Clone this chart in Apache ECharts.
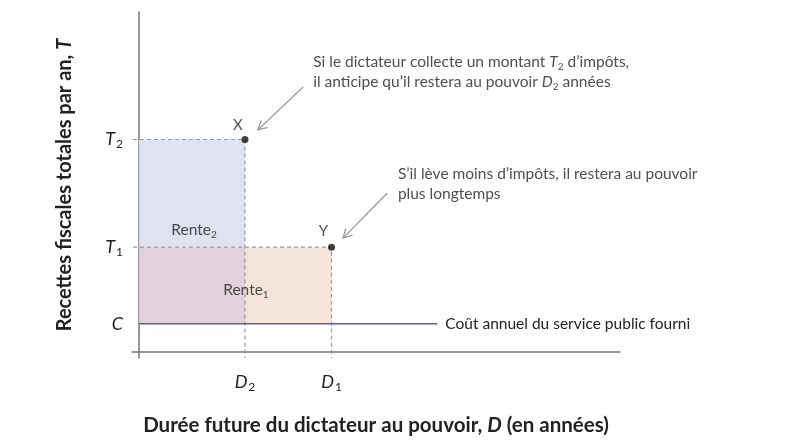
<!DOCTYPE html>
<html>
<head>
    <meta charset="utf-8">
    <title>Rente du dictateur</title>
    <script src="https://cdn.jsdelivr.net/npm/echarts@6.0.0/dist/echarts.min.js"></script>
    <style>
        html, body { margin: 0; padding: 0; background: #fff; }
    </style>
</head>
<body>
    <div id="main" style="width:810px;height:443px;"></div>
    <script type="text/javascript">
        // valeurs (unités arbitraires)
        var durations = [2.2, 4.0];          // D2, D1
        var durationNames = ['D2', 'D1'];
        var taxes = [7.5, 3.7, 1.0];         // T2, T1, C
        var taxNames = ['T2', 'T1', 'C'];
        var costLine = [[0, 1.0], [6.2, 1.0]];
        var pointX = [2.2, 7.5];
        var pointY = [4.0, 3.7];
        // flèches : [x départ, y départ, x arrivée, y arrivée]
        var arrows = [
            [3.41, 9.35, 2.47, 7.84],
            [5.16, 5.61, 4.24, 4.02]
        ];

        var FONT = 'Lato';
        var textColor = '#222';

        function subLabel(name) {
            if (name.length == 1) return '{i|' + name + '}';
            return '{i|' + name.charAt(0) + '}{s|' + name.substring(1) + '}';
        }

        var tickRich = {
            i: { fontFamily: FONT, fontSize: 18, fontStyle: 'italic', color: textColor, lineHeight: 22 },
            s: { fontFamily: FONT, fontSize: 12, color: textColor, lineHeight: 22, padding: [10, 0, 0, 1] }
        };
        var noteRich = {
            n: { fontFamily: FONT, fontSize: 15.5, color: textColor, lineHeight: 20 },
            i: { fontFamily: FONT, fontSize: 15.5, fontStyle: 'italic', color: textColor, lineHeight: 20 },
            s: { fontFamily: FONT, fontSize: 10, color: textColor, lineHeight: 20, padding: [9, 0, 0, 0] }
        };

        var myChart = echarts.init(document.getElementById('main'));

        var option = {
            animation: false,
            grid: { left: 132, right: 190, top: 12, bottom: 85 },
            xAxis: {
                type: 'value',
                min: -0.15,
                max: 10,
                splitLine: { show: false },
                axisTick: { show: false },
                axisLine: { onZero: true, lineStyle: { color: '#777', width: 1.5 } },
                axisLabel: {
                    customValues: durations,
                    margin: 13,
                    formatter: function (v) {
                        var k = durations.indexOf(v);
                        return k < 0 ? '' : subLabel(durationNames[k]);
                    },
                    rich: tickRich
                },
                name: 'Durée future du dictateur au pouvoir, {i|D} (en années)',
                nameLocation: 'middle',
                nameGap: 57,
                nameTextStyle: {
                    fontFamily: FONT, fontSize: 20.5, fontWeight: 'bold', color: textColor,
                    rich: {
                        i: { fontFamily: FONT, fontSize: 20.5, fontWeight: 'bold', fontStyle: 'italic', color: textColor }
                    }
                }
            },
            yAxis: {
                type: 'value',
                min: -0.21,
                max: 12,
                splitLine: { show: false },
                axisTick: { show: false },
                axisLine: { onZero: true, lineStyle: { color: '#777', width: 1.5 } },
                axisLabel: {
                    customValues: taxes,
                    margin: 9,
                    formatter: function (v) {
                        var k = taxes.indexOf(v);
                        return k < 0 ? '' : subLabel(taxNames[k]);
                    },
                    rich: tickRich
                },
                name: 'Recettes fiscales totales par an, {i|T}',
                nameLocation: 'middle',
                nameGap: 57,
                nameTextStyle: {
                    fontFamily: FONT, fontSize: 20, fontWeight: 'bold', color: textColor,
                    rich: {
                        i: { fontFamily: FONT, fontSize: 20, fontWeight: 'bold', fontStyle: 'italic', color: textColor }
                    }
                }
            },
            series: [
                {
                    // surfaces des rentes
                    type: 'line',
                    data: [],
                    silent: true,
                    z: 1,
                    markArea: {
                        silent: true,
                        data: [
                            [{ coord: [0, taxes[1]], itemStyle: { color: '#dee2f1' } }, { coord: [durations[0], taxes[0]] }],
                            [{ coord: [0, taxes[2]], itemStyle: { color: '#e1d1da' } }, { coord: [durations[0], taxes[1]] }],
                            [{ coord: [durations[0], taxes[2]], itemStyle: { color: '#f5e5d9' } }, { coord: [durations[1], taxes[1]] }]
                        ]
                    }
                },
                {
                    // pointillés T2 -> X -> D2
                    type: 'line',
                    silent: true,
                    symbol: 'none',
                    z: 2,
                    lineStyle: { color: '#999', width: 1.2, type: [4, 3] },
                    data: [[-0.13, pointX[1]], pointX, [pointX[0], -0.21]]
                },
                {
                    // pointillés T1 -> Y -> D1
                    type: 'line',
                    silent: true,
                    symbol: 'none',
                    z: 2,
                    lineStyle: { color: '#999', width: 1.2, type: [4, 3] },
                    data: [[-0.13, pointY[1]], pointY, [pointY[0], -0.21]]
                },
                {
                    // coût du service public
                    type: 'line',
                    silent: true,
                    symbol: 'none',
                    z: 3,
                    lineStyle: { color: '#5c5fa8', width: 1.5 },
                    endLabel: {
                        show: true, distance: 8,
                        formatter: 'Coût annuel du service public fourni',
                        fontFamily: FONT, fontSize: 15.5, color: textColor
                    },
                    data: costLine
                },
                {
                    // points X et Y
                    type: 'scatter',
                    silent: true,
                    symbolSize: 7,
                    z: 5,
                    itemStyle: { color: '#111' },
                    label: { show: true, fontFamily: FONT, fontSize: 15, color: textColor },
                    data: [
                        { value: pointX, label: { formatter: 'X', position: 'top', offset: [-7, 2] } },
                        { value: pointY, label: { formatter: 'Y', position: 'top', offset: [-8, 0] } }
                    ]
                },
                {
                    // textes
                    type: 'scatter',
                    silent: true,
                    symbolSize: 0,
                    z: 6,
                    label: {
                        show: true, position: 'right', distance: 0,
                        align: 'left', verticalAlign: 'middle',
                        fontFamily: FONT, fontSize: 15.5, color: textColor, rich: noteRich
                    },
                    data: [
                        { value: [1.14, 4.31], label: { position: 'inside', align: 'center', formatter: '{n|Rente}{s|2}' } },
                        { value: [2.22, 2.19], label: { position: 'inside', align: 'center', formatter: '{n|Rente}{s|1}' } },
                        { value: [3.62, 9.88], label: { formatter: '{n|Si le dictateur collecte un montant }{i|T}{s|2}{n| d’impôts,}\n{n|il anticipe qu’il restera au pouvoir }{i|D}{s|2}{n| années}' } },
                        { value: [5.38, 5.93], label: { formatter: '{n|S’il lève moins d’impôts, il restera au pouvoir}\n{n|plus longtemps}' } }
                    ]
                },
                {
                    // flèches
                    type: 'custom',
                    silent: true,
                    z: 4,
                    encode: { x: [0, 2], y: [1, 3] },
                    data: arrows,
                    renderItem: function (params, api) {
                        var p0 = api.coord([api.value(0), api.value(1)]);
                        var p1 = api.coord([api.value(2), api.value(3)]);
                        var ang = Math.atan2(p1[1] - p0[1], p1[0] - p0[0]);
                        var h = 10, w = 0.5;
                        var a1 = [p1[0] - h * Math.cos(ang - w), p1[1] - h * Math.sin(ang - w)];
                        var a2 = [p1[0] - h * Math.cos(ang + w), p1[1] - h * Math.sin(ang + w)];
                        var st = { stroke: '#999', lineWidth: 1.3, fill: null };
                        return {
                            type: 'group',
                            children: [
                                { type: 'line', shape: { x1: p0[0], y1: p0[1], x2: p1[0], y2: p1[1] }, style: st },
                                { type: 'polyline', shape: { points: [a1, p1, a2] }, style: st }
                            ]
                        };
                    }
                }
            ]
        };

        myChart.setOption(option);
    </script>
</body>
</html>
